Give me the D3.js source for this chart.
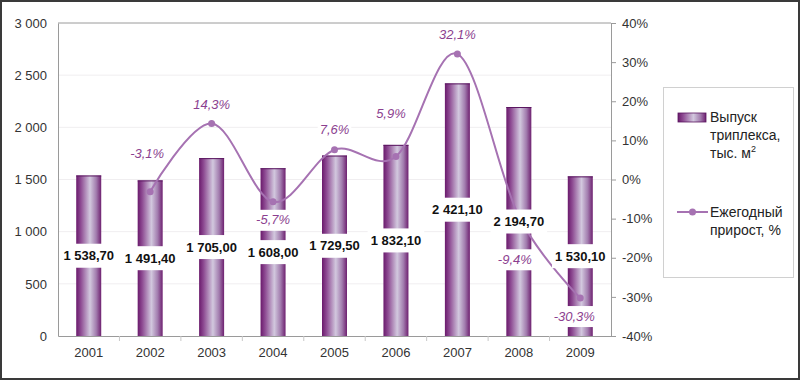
<!DOCTYPE html>
<html>
<head>
<meta charset="utf-8">
<script src="https://cdn.jsdelivr.net/npm/d3@7"></script>
<style>
  body { margin: 0; background: #fff; }
  svg { display: block; font-family: "Liberation Sans", Arial, sans-serif; }
</style>
</head>
<body>
<svg id="chart" width="800" height="380"></svg>
<script>
// Data
const years = ["2001", "2002", "2003", "2004", "2005", "2006", "2007", "2008", "2009"];
const output = [1538.7, 1491.4, 1705.0, 1608.0, 1729.5, 1832.1, 2421.1, 2194.7, 1530.1];
const growth = [null, -3.1, 14.3, -5.7, 7.6, 5.9, 32.1, -9.4, -30.3];
const leftTicks = [0, 500, 1000, 1500, 2000, 2500, 3000];
const rightTicks = [-40, -30, -20, -10, 0, 10, 20, 30, 40];

// label offsets from the point (the original labels were placed by hand)
const pctLabelDy = [0, -38, -19, 18, -20, -43, -19, 43, 18];
const pctLabelDx = [0, -3, 0, 0, 0, -5, 0, -4, -6];

const svg = d3.select("#chart");
const W = 800, H = 380;
const plot = {left: 58, right: 611, top: 23, bottom: 336};

const fmtNum = d => d3.format(",.2f")(d).replace(/,/g, " ").replace(".", ",");
const fmtTick = d => d3.format(",")(d).replace(/,/g, " ");
const fmtPct = d => d.toFixed(1).replace(".", ",") + "%";

// outer frame
svg.append("rect")
    .attr("x", 1).attr("y", 1)
    .attr("width", W - 2).attr("height", H - 2)
    .attr("fill", "#fff")
    .attr("stroke", "#3a3a3a")
    .attr("stroke-width", 2);

const x = d3.scaleBand()
    .domain(years)
    .range([plot.left, plot.right]);
const cx = yr => x(yr) + x.bandwidth() / 2;

const y = d3.scaleLinear()
    .domain([0, 3000])
    .range([plot.bottom, plot.top]);

const y2 = d3.scaleLinear()
    .domain([-40, 40])
    .range([plot.bottom, plot.top]);

// bar gradient, cylinder look
const grad = svg.append("defs").append("linearGradient")
    .attr("id", "barGrad")
    .attr("x1", "0%").attr("x2", "100%")
    .attr("y1", "0%").attr("y2", "0%");
[
    ["0%", "#6a1a6c"],
    ["18%", "#8d4a92"],
    ["55%", "#d2c8de"],
    ["80%", "#a27cae"],
    ["100%", "#6e2070"]
].forEach(s => grad.append("stop").attr("offset", s[0]).attr("stop-color", s[1]));

// faint gridlines
svg.append("g")
    .selectAll("line")
    .data(leftTicks.slice(1, -1))
    .join("line")
    .attr("x1", plot.left).attr("x2", plot.right)
    .attr("y1", d => y(d)).attr("y2", d => y(d))
    .attr("stroke", "#f0eef0");

// plot frame (top line)
svg.append("line")
    .attr("x1", plot.left).attr("x2", plot.right)
    .attr("y1", plot.top).attr("y2", plot.top)
    .attr("stroke", "#9a9a9a");

// left axis
const yAxis = d3.axisLeft(y)
    .tickValues(leftTicks)
    .tickFormat(fmtTick)
    .tickSize(0)
    .tickPadding(11);
const gy = svg.append("g")
    .attr("transform", `translate(${plot.left},0)`)
    .call(yAxis);
gy.select(".domain").attr("stroke", "#9a9a9a");
gy.selectAll("text").attr("font-size", 13).attr("fill", "#333")
    .attr("font-family", "Liberation Sans, Arial, sans-serif");

// right axis
const yAxis2 = d3.axisRight(y2)
    .tickValues(rightTicks)
    .tickFormat(d => d + "%")
    .tickSize(5)
    .tickPadding(6);
const gy2 = svg.append("g")
    .attr("transform", `translate(${plot.right},0)`)
    .call(yAxis2);
gy2.select(".domain").attr("stroke", "#9a9a9a");
gy2.selectAll(".tick line").attr("stroke", "#9a9a9a");
gy2.selectAll("text").attr("font-size", 13).attr("fill", "#333")
    .attr("font-family", "Liberation Sans, Arial, sans-serif");

// bottom axis
const xAxis = d3.axisBottom(x).tickSize(0).tickPadding(12);
const gx = svg.append("g")
    .attr("transform", `translate(0,${plot.bottom})`)
    .call(xAxis);
gx.select(".domain").attr("stroke", "#9a9a9a");
gx.selectAll("text").attr("font-size", 13).attr("fill", "#333")
    .attr("font-family", "Liberation Sans, Arial, sans-serif");
// category boundary ticks
gx.append("g")
    .selectAll("line")
    .data(years.slice(1))
    .join("line")
    .attr("x1", d => x(d)).attr("x2", d => x(d))
    .attr("y1", 0).attr("y2", 5)
    .attr("stroke", "#c8c8c8");

// bars
const barW = 25;
const bars = svg.append("g");
bars.selectAll("rect")
    .data(output)
    .join("rect")
    .attr("x", (d, i) => cx(years[i]) - barW / 2)
    .attr("y", d => y(d))
    .attr("width", barW)
    .attr("height", d => y(0) - y(d))
    .attr("fill", "url(#barGrad)");
bars.selectAll("line")
    .data(output)
    .join("line")
    .attr("x1", (d, i) => cx(years[i]) - barW / 2)
    .attr("x2", (d, i) => cx(years[i]) + barW / 2)
    .attr("y1", d => y(d) + 0.5).attr("y2", d => y(d) + 0.5)
    .attr("stroke", "#5a1660");

// growth line
const lineColor = "#a672b2";
const pts = growth.map((g, i) => ({year: years[i], g: g, i: i})).filter(d => d.g !== null);
const line = d3.line()
    .curve(d3.curveCardinal.tension(0))
    .x(d => cx(d.year))
    .y(d => y2(d.g));
svg.append("path")
    .attr("d", line(pts))
    .attr("fill", "none")
    .attr("stroke", lineColor)
    .attr("stroke-width", 2);
svg.append("g").selectAll("circle")
    .data(pts)
    .join("circle")
    .attr("cx", d => cx(d.year))
    .attr("cy", d => y2(d.g))
    .attr("r", 3.5)
    .attr("fill", lineColor);

// value labels with white boxes, centred in the bar
const valLabels = svg.append("g").selectAll("g")
    .data(output)
    .join("g")
    .attr("transform", (d, i) => `translate(${cx(years[i])},${(y(d) + y(0)) / 2})`);
valLabels.append("rect")
    .attr("y", -12)
    .attr("height", 24)
    .attr("fill", "#fff");
valLabels.append("text")
    .attr("text-anchor", "middle")
    .attr("dy", "0.35em")
    .attr("font-size", 13)
    .attr("font-weight", "bold")
    .attr("fill", "#111")
    .text(d => fmtNum(d));
valLabels.each(function() {
    const g = d3.select(this);
    const w = g.select("text").node().getComputedTextLength() + 6;
    g.select("rect").attr("x", -w / 2).attr("width", w);
});

// growth labels
const pctLabels = svg.append("g").selectAll("g")
    .data(pts)
    .join("g")
    .attr("transform", d => `translate(${cx(d.year) + pctLabelDx[d.i]},${y2(d.g) + pctLabelDy[d.i]})`);
pctLabels.append("rect")
    .attr("y", -10)
    .attr("height", 21)
    .attr("fill", "#fff");
pctLabels.append("text")
    .attr("dy", "0.35em")
    .attr("text-anchor", "middle")
    .attr("font-size", 13)
    .attr("font-style", "italic")
    .attr("fill", "#8c3f90")
    .text(d => fmtPct(d.g));
pctLabels.each(function() {
    const g = d3.select(this);
    const w = g.select("text").node().getComputedTextLength() + 4;
    g.select("rect").attr("x", -w / 2).attr("width", w);
});

// legend
const lg = svg.append("g");
lg.append("rect")
    .attr("x", 663.5).attr("y", 87.5)
    .attr("width", 130).attr("height", 190)
    .attr("fill", "#fff")
    .attr("stroke", "#d0d0d0");
lg.append("rect")
    .attr("x", 678).attr("y", 113)
    .attr("width", 28).attr("height", 9)
    .attr("fill", "url(#barGrad)")
    .attr("stroke", "#5a1660")
    .attr("stroke-width", 0.8);
const t1 = lg.append("text")
    .attr("x", 710).attr("y", 117)
    .attr("font-size", 14).attr("fill", "#222");
t1.append("tspan").attr("x", 710).attr("dy", "0.35em").text("Выпуск");
t1.append("tspan").attr("x", 710).attr("dy", 18).text("триплекса,");
t1.append("tspan").attr("x", 710).attr("dy", 18).text("тыс. м");
t1.append("tspan").attr("font-size", 9).attr("dy", -6).text("2");

lg.append("line")
    .attr("x1", 677).attr("x2", 708)
    .attr("y1", 212).attr("y2", 212)
    .attr("stroke", lineColor).attr("stroke-width", 2);
lg.append("circle")
    .attr("cx", 692.5).attr("cy", 212).attr("r", 3.5)
    .attr("fill", lineColor);
const t2 = lg.append("text")
    .attr("x", 710).attr("y", 212)
    .attr("font-size", 14).attr("fill", "#222");
t2.append("tspan").attr("x", 710).attr("dy", "0.35em").text("Ежегодный");
t2.append("tspan").attr("x", 710).attr("dy", 18).text("прирост, %");
</script>
</body>
</html>
